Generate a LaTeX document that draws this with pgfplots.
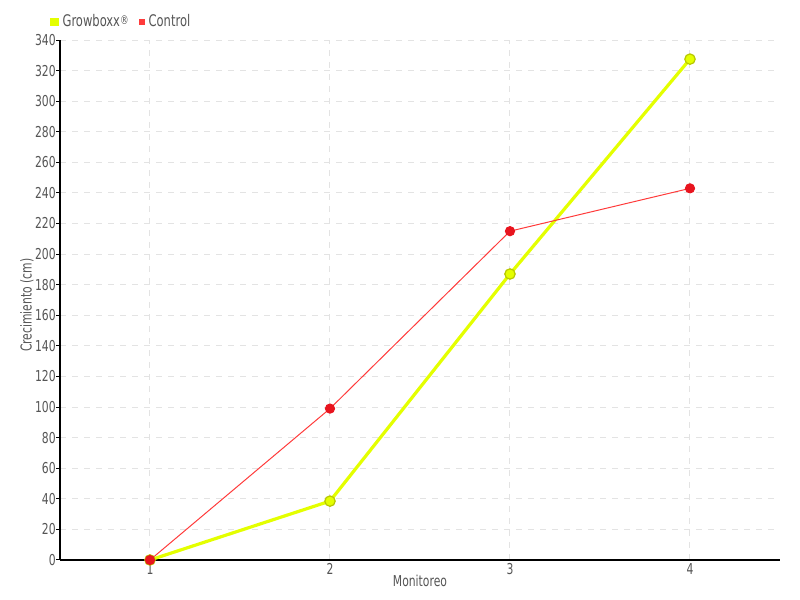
\documentclass[border=0pt]{standalone}
\usepackage{pgfplots}
\pgfplotsset{compat=1.18}
\usepackage{fontspec}
\setmainfont{DejaVu Sans Condensed}[FakeStretch=0.8]
\definecolor{gyel}{HTML}{E4FF00}
\definecolor{gyeldark}{HTML}{B8C800}
\definecolor{cred}{HTML}{FF3B3B}
\definecolor{credm}{HTML}{E8141E}
\definecolor{txt}{HTML}{555555}
\begin{document}
\begin{tikzpicture}
\begin{axis}[
  at={(0,0)}, anchor=south west,
  scale only axis, width=360pt, height=260pt,
  xmin=0.5, xmax=4.5, ymin=0, ymax=340,
  xtick={1,2,3,4}, ytick={0,20,...,340},
  axis lines=left, axis line style={-, black, line width=0.6pt},
  tick style={black, line width=0.5pt},
  major tick length=1.8pt,
  x tick style={draw=none},
  tick align=outside,
  grid=major, grid style={dashed, gray!22, line width=0.5pt},
  ticklabel style={font=\fontsize{7.5}{8}\selectfont, text=txt},
  yticklabel style={xshift=3.2pt},
  xticklabel style={yshift=3.5pt},
  /pgf/number format/assume math mode=true,
  xlabel={Monitoreo}, ylabel={Crecimiento (cm)},
  label style={font=\fontsize{7.5}{8}\selectfont, text=txt},
  xlabel style={at={(axis description cs:0.5,-0.0404)}, anchor=center},
  ylabel style={at={(axis description cs:-0.0458,0.49)}, anchor=center},
  legend style={at={(-5pt,269pt)}, anchor=west, draw=none, fill=none,
    font=\fontsize{8}{9}\selectfont, text=txt, legend columns=2,
    /tikz/every even column/.append style={column sep=3pt},
    inner sep=0pt},
  legend image code/.code={\fill[#1] (0.5pt,-1.3pt) rectangle (3pt,1.3pt);},
  clip=false,
]
\addplot[color=gyel, line width=1.6pt, mark=*, mark size=2.6pt,
  mark options={fill=gyel, draw=gyeldark, line width=0.6pt}]
  coordinates {(1,0) (2,38.5) (3,187) (4,327.5)};
\addlegendentry{Growboxx\raisebox{1.2pt}{\fontsize{6}{6}\selectfont\textregistered}}
\addplot[color=cred, line width=0.5pt, mark=*, mark size=2.3pt,
  mark options={fill=credm, draw=credm}]
  coordinates {(1,0) (2,99) (3,215) (4,243)};
\addlegendentry{Control}
\end{axis}
\pgfresetboundingbox
\path (-30pt,-20pt) rectangle (370pt,280pt);
\end{tikzpicture}
\end{document}
